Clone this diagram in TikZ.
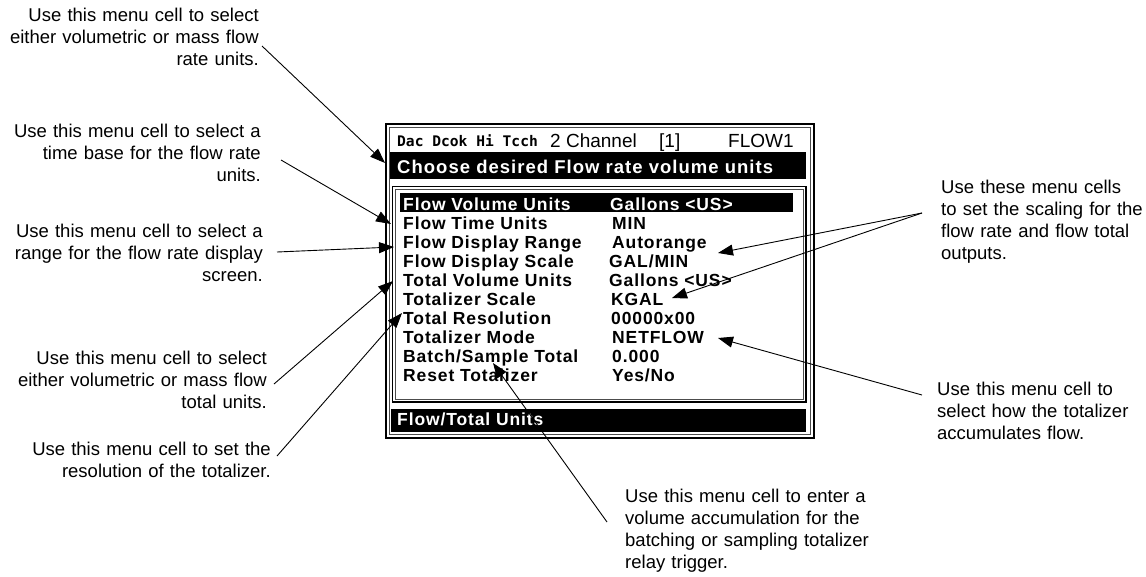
\documentclass[tikz,border=0pt]{standalone}
\usepackage{fontspec}
\setmainfont{Liberation Sans}
\newfontfamily\screenfont[LetterSpace=5]{Liberation Sans}
\newfontfamily\promptfont[LetterSpace=5.5]{Liberation Sans}
\newfontfamily\brandfont{DejaVu Sans Mono}
\usetikzlibrary{arrows.meta}

\begin{document}
\begin{tikzpicture}[x=1pt,y=-1pt,
  note/.style={font=\fontsize{18.5}{22}\selectfont, inner sep=0pt, text width=300pt},
  noteL/.style={note, align=right, anchor=base east},
  noteR/.style={note, align=left, anchor=base west},
  pointer/.style={draw=black, line width=0.9pt, -{Triangle[length=15pt,width=11pt]}},
  cell/.style={font=\screenfont\bfseries\fontsize{17.5}{19}\selectfont, inner sep=0pt, anchor=base west},
  barcell/.style={cell, text=white},
  headcell/.style={font=\fontsize{19}{22}\selectfont, inner sep=0pt, anchor=base west},
  frameout/.style={line width=1.8pt, draw=black},
  framein/.style={line width=0.8pt, draw=black!70}
]
\useasboundingbox (0,0) rectangle (1146,576);

% ---- display screen frame
\draw[frameout] (386,124) rectangle (814,438);
\draw[framein] (389.5,127.5) rectangle (810.5,434.5);

% title line
\node[inner sep=0pt, anchor=base west, font=\brandfont\bfseries\fontsize{14.6}{16}\selectfont] (brand) at (397,146) {Dac Dcok Hi Tcch};
\node[headcell] (chan) at (550,147) {2 Channel};
\node[headcell] (chnum) at (659,147) {[1]};
\node[headcell] (flowid) at (728,147) {FLOW1};

% prompt bar
\fill[black] (390,152) rectangle (806,179);
\node[barcell, font=\promptfont\bfseries\fontsize{18.5}{20}\selectfont] (prompt) at (397,173) {Choose desired Flow rate volume units};

% menu area
\draw[line width=1.5pt] (392.5,186.5) rectangle (806,402);
\draw[framein] (395.5,189.5) rectangle (803,399);
\fill[black] (400,193) rectangle (793,212);

\node[barcell] (r1) at (403,210)   {Flow Volume Units};
\node[barcell] (v1) at (610,210)   {Gallons <US>};
\node[cell] (r2) at (403,229.1)  {Flow Time Units};
\node[cell] (v2) at (612,229.1)  {MIN};
\node[cell] (r3) at (403,248.2)  {Flow Display Range};
\node[cell] (v3) at (612,248.2)  {Autorange};
\node[cell] (r4) at (403,267.3)  {Flow Display Scale};
\node[cell] (v4) at (609,267.3)  {GAL/MIN};
\node[cell] (r5) at (403,286.4)  {Total Volume Units};
\node[cell] (v5) at (609,286.4)  {Gallons <US>};
\node[cell] (r6) at (403,305.5)  {Totalizer Scale};
\node[cell] (v6) at (611,305.5)  {KGAL};
\node[cell] (r7) at (403,324.6)  {Total Resolution};
\node[cell] (v7) at (611,324.6)  {00000x00};
\node[cell] (r8) at (403,343.7)  {Totalizer Mode};
\node[cell] (v8) at (612,343.7)  {NETFLOW};
\node[cell] (r9) at (403,362.8)  {Batch/Sample Total};
\node[cell] (v9) at (612,362.8)  {0.000};
\node[cell] (r10) at (403,381.9) {Reset Totalizer};
\node[cell] (v10) at (612,381.9) {Yes/No};

% status bar
\fill[black] (391,409) rectangle (806,432);
\node[barcell] (status) at (397,425) {Flow/Total Units};

% ---- explanatory notes
\node[noteL] (nRate) at (259,21.5) {Use this menu cell to select\\either volumetric or mass flow\\rate units.};
\node[noteL] (nTime) at (261,137) {Use this menu cell to select a\\time base for the flow rate\\units.};
\node[noteL] (nRange) at (263,237) {Use this menu cell to select a\\range for the flow rate display\\screen.};
\node[noteL] (nTotal) at (267,364) {Use this menu cell to select\\either volumetric or mass flow\\total units.};
\node[noteL] (nRes) at (271,455) {Use this menu cell to set the\\resolution of the totalizer.};
\node[noteR] (nBatch) at (625,502) {Use this menu cell to enter a\\volume accumulation for the\\batching or sampling totalizer\\relay trigger.};
\node[noteR] (nScale) at (941,193) {Use these menu cells\\to set the scaling for the\\flow rate and flow total\\outputs.};
\node[noteR] (nMode) at (937,395) {Use this menu cell to\\select how the totalizer\\accumulates flow.};

% ---- pointer ends
\coordinate (aRate) at (262,46);   \coordinate (hRate) at (385,163);
\coordinate (aTime) at (281,160);  \coordinate (hTime) at (391,224);
\coordinate (aRange) at (277,252); \coordinate (hRange) at (394,247);
\coordinate (aTotal) at (274,384); \coordinate (hTotal) at (393,281);
\coordinate (aRes) at (277,456);   \coordinate (hRes) at (402,313);
\coordinate (aBatch) at (607,522); \coordinate (hBatch) at (493,363);
\coordinate (aScale) at (922,213); \coordinate (hRangeV) at (718,253);
\coordinate (hScaleV) at (672,298);
\coordinate (aMode) at (922,395);  \coordinate (hMode) at (718,338);

\draw[pointer] (aRate) -- (hRate);
\draw[pointer] (aTime) -- (hTime);
\draw[pointer] (aRange) -- (hRange);
\draw[pointer] (aTotal) -- (hTotal);
\draw[pointer] (aRes) -- (hRes);
\draw[pointer] (aBatch) -- (hBatch);
\draw[pointer] (aScale) -- (hRangeV);
\draw[pointer] (aScale) -- (hScaleV);
\draw[pointer] (aMode) -- (hMode);
\end{tikzpicture}
\end{document}
